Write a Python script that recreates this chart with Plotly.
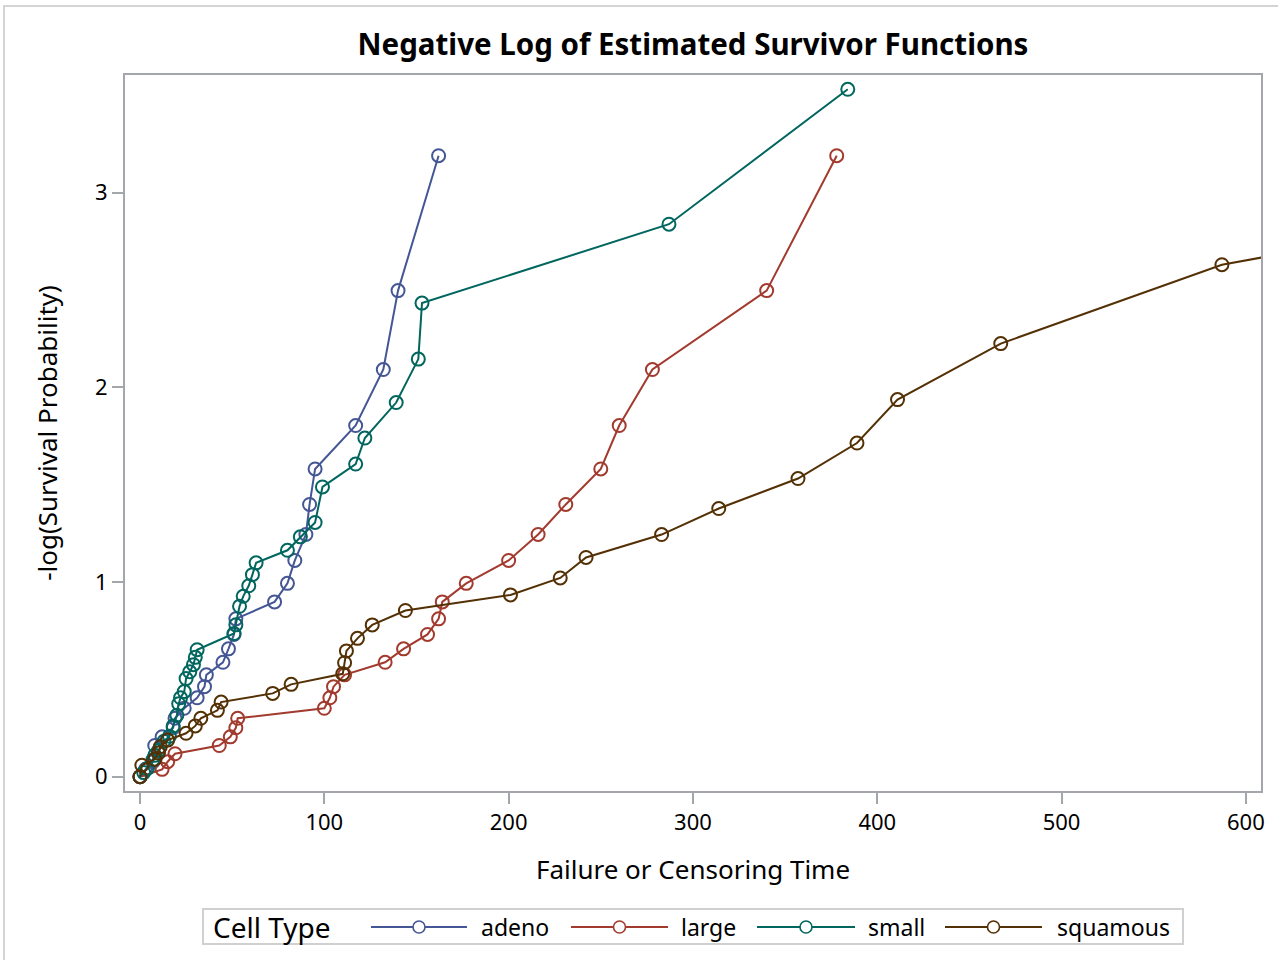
import plotly.graph_objects as go

# Negative log of Kaplan-Meier survivor estimates at each event time
adeno_t = [0, 3, 7, 8, 12, 18, 19, 24, 31, 35, 36, 45, 48, 51, 52, 73, 80, 84, 90, 92, 95, 117, 132, 140, 162]
adeno_y = [0, 0.0377, 0.0770, 0.1603, 0.2048, 0.2513, 0.3001, 0.3514, 0.4055, 0.4626, 0.5232, 0.5878,
           0.6568, 0.7309, 0.8109, 0.8979, 0.9933, 1.1110, 1.2446, 1.3987, 1.5810, 1.8042, 2.0919, 2.4973, 3.1905]

large_t = [0, 12, 15, 19, 43, 49, 52, 53, 100, 103, 105, 111, 133, 143, 156, 162, 164, 177, 200, 216, 231,
           250, 260, 278, 340, 378]
large_y = [0, 0.0377, 0.0770, 0.1178, 0.1603, 0.2048, 0.2513, 0.3001, 0.3514, 0.4055, 0.4626, 0.5232,
           0.5878, 0.6568, 0.7309, 0.8109, 0.8979, 0.9933, 1.1110, 1.2446, 1.3987, 1.5810, 1.8042, 2.0919,
           2.4973, 3.1905]

small_t = [0, 2, 4, 7, 8, 10, 13, 16, 18, 20, 21, 22, 24, 25, 27, 29, 30, 31, 51, 52, 54, 56, 59, 61, 63,
           80, 87, 95, 99, 117, 122, 139, 151, 153, 287, 384]
small_y = [0, 0.0211, 0.0426, 0.0870, 0.1100, 0.1335, 0.1823, 0.2076, 0.2603, 0.3159, 0.3747, 0.4055,
           0.4372, 0.5039, 0.5390, 0.5754, 0.6131, 0.6523, 0.7357, 0.7802, 0.8755, 0.9268, 0.9808, 1.0380,
           1.0986, 1.1632, 1.2321, 1.3063, 1.4886, 1.6064, 1.7399, 1.9222, 2.1454, 2.4330, 2.8385, 3.5316]

squamous_t = [0, 1, 8, 10, 11, 15, 25, 30, 33, 42, 44, 72, 82, 110, 111, 112, 118, 126, 144, 201, 228,
              242, 283, 314, 357, 389, 411, 467, 587, 991]
squamous_y = [0, 0.0588, 0.0896, 0.1214, 0.1542, 0.1881, 0.2231, 0.2609, 0.3001, 0.3409, 0.3835, 0.4279,
              0.4745, 0.5285, 0.5857, 0.6463, 0.7108, 0.7798, 0.8539, 0.9340, 1.0210, 1.1264, 1.2441,
              1.3777, 1.5318, 1.7142, 1.9373, 2.2250, 2.6304, 3.3236]

names = ["adeno", "large", "small", "squamous"]
colors = ["#445694", "#A23A2E", "#01665E", "#543005"]
series_t = [adeno_t, large_t, small_t, squamous_t]
series_y = [adeno_y, large_y, small_y, squamous_y]

x_ticks = [0, 100, 200, 300, 400, 500, 600]
y_ticks = [0, 1, 2, 3]

FONT = "Noto Sans"
W, H = 1278, 960
ML, MR, MT, MB = 125, 17, 75, 169
PW, PH = W - ML - MR, H - MT - MB


def px_x(p):
    return (p - ML) / PW


def px_y(p):
    return (H - MB - p) / PH


fig = go.Figure()
for n, c, t, y in zip(names, colors, series_t, series_y):
    fig.add_trace(go.Scatter(
        x=t, y=y, name=n, mode="lines+markers",
        line=dict(color=c, width=2),
        marker=dict(symbol="circle-open", size=13, color=c, line=dict(width=2, color=c)),
        cliponaxis=True, showlegend=False,
    ))

axis_common = dict(
    showline=True, mirror=True, linecolor="#a3a7ab", linewidth=2,
    ticks="outside", ticklen=11, tickwidth=2, tickcolor="#a3a7ab",
    showgrid=False, zeroline=False,
    tickfont=dict(family=FONT, size=22, color="#000000"),
)

# ---- custom legend (box, title, keys) ----
shapes = [
    dict(type="rect", xref="paper", yref="paper", x0=px_x(4), x1=px_x(1300), y0=px_y(1000), y1=px_y(6),
         line=dict(color="#d4d4d4", width=2), fillcolor="rgba(0,0,0,0)", layer="below"),
    dict(type="rect", xref="paper", yref="paper", x0=px_x(203), x1=px_x(1183), y0=px_y(944), y1=px_y(909),
         line=dict(color="#d0d0d0", width=2), fillcolor="white", layer="below"),
]
annotations = [
    dict(text="Cell Type", xref="paper", yref="paper", x=px_x(211), y=px_y(927), xanchor="left",
         yanchor="middle", showarrow=False, font=dict(family=FONT, size=28, color="#000000")),
]
key_x0 = [371, 571, 757, 945]
key_x1 = [467, 668, 855, 1042]
text_x = [479, 679, 866, 1055]
ly = px_y(927)
for n, c, a, b, tx in zip(names, colors, key_x0, key_x1, text_x):
    shapes.append(dict(type="line", xref="paper", yref="paper", x0=px_x(a), x1=px_x(b), y0=ly, y1=ly,
                       line=dict(color=c, width=2)))
    shapes.append(dict(type="circle", xref="paper", yref="paper", xsizemode="pixel", ysizemode="pixel",
                       xanchor=px_x((a + b) / 2), yanchor=ly, x0=-6, x1=6, y0=-6, y1=6,
                       line=dict(color=c, width=1.6), fillcolor="white"))
    annotations.append(dict(text=n, xref="paper", yref="paper", x=px_x(tx), y=ly, xanchor="left",
                            yanchor="middle", showarrow=False,
                            font=dict(family=FONT, size=23, color="#000000")))

fig.update_layout(
    width=W, height=H,
    paper_bgcolor="white", plot_bgcolor="white",
    margin=dict(l=ML, r=MR, t=MT, b=MB),
    title=dict(text="<b>Negative Log of Estimated Survivor Functions</b>",
               x=693 / W, xanchor="center", y=1 - 45 / H, yanchor="middle",
               font=dict(family=FONT, size=29.5, color="#000000")),
    xaxis=dict(range=[-8.14, 608.2], tickvals=x_ticks, ticktext=[str(v) for v in x_ticks],
               title=dict(text="Failure or Censoring Time", font=dict(family=FONT, size=26, color="#000000"),
                          standoff=25),
               **axis_common),
    yaxis=dict(range=[-0.0735, 3.605], tickvals=y_ticks, ticktext=[str(v) for v in y_ticks],
               title=dict(text="-log(Survival Probability)", font=dict(family=FONT, size=26, color="#000000"),
                          standoff=30),
               **axis_common),
    showlegend=False,
    shapes=shapes,
    annotations=annotations,
)

fig.write_html("out.html", config={"displayModeBar": False},
               post_script="document.body.style.margin='0';")
